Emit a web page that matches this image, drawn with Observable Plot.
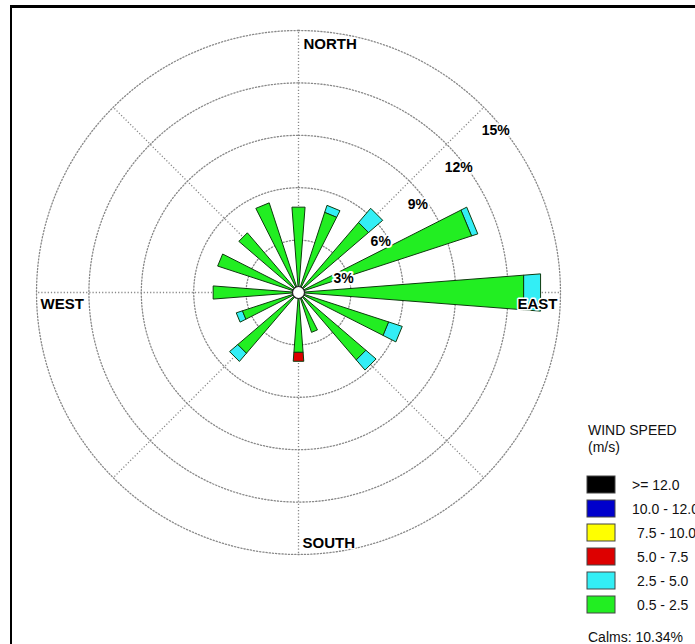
<!DOCTYPE html>
<html><head><meta charset="utf-8">
<script src="https://cdn.jsdelivr.net/npm/d3@7"></script>
<script src="https://cdn.jsdelivr.net/npm/@observablehq/plot@0.6"></script>
<style>
body{margin:0;background:#fff;}
#wrap{position:relative;width:695px;height:644px;overflow:hidden;background:#fff;font-family:"Liberation Sans",Arial,sans-serif;}
#chart{position:absolute;left:0;top:0;}
#legend{position:absolute;left:0;top:0;}
#frame{position:absolute;left:10px;top:5px;width:800px;height:800px;border-left:2px solid #000;border-top:3px solid #000;pointer-events:none;}
</style></head><body>
<div id="wrap"><div id="chart"></div><svg id="legend" width="695" height="644"></svg><div id="frame"></div></div>
<script>
// ---- data (percent frequency by direction and wind-speed class) ----
const directions = ["N","NNE","NE","ENE","E","ESE","SE","SSE","S","SSW","SW","WSW","W","WNW","NW","NNW"];
const bearingDeg = [0,22.5,45,67.5,90,112.5,135,157.5,180,202.5,225,247.5,270,292.5,315,337.5];
const speed_0_5_2_5  = [4.9,4.85,5.3,10.45,12.95,5.45,5.1,2.4,3.45,0,4.6,3.4,4.9,4.87,4.5,5.4];
const speed_2_5_5_0  = [0,0.4,1.05,0.35,0.95,0.8,0.75,0,0,0,0.6,0.35,0,0,0,0];
const speed_5_0_7_5  = [0,0,0,0,0,0,0,0,0.5,0,0,0,0,0,0,0];
const speed_7_5_10_0 = [0,0,0,0,0,0,0,0,0,0,0,0,0,0,0,0];
const speed_10_0_12_0= [0,0,0,0,0,0,0,0,0,0,0,0,0,0,0,0];
const speed_12_0_up  = [0,0,0,0,0,0,0,0,0,0,0,0,0,0,0,0];
const classLabels = ["0.5 - 2.5","2.5 - 5.0","5.0 - 7.5","7.5 - 10.0","10.0 - 12.0",">= 12.0"];
const classColors = ["#22ee22","#33eef5","#dd0000","#ffff00","#0000cc","#000000"];
const ringValues = [3,6,9,12,15];
const ringLabels = ["3%","6%","9%","12%","15%"];
const compassLabels = ["NORTH","EAST","SOUTH","WEST"];
const calmsText = "Calms: 10.34%";
const legendTitle = ["WIND SPEED","(m/s)"];

const classValues = [speed_0_5_2_5,speed_2_5_5_0,speed_5_0_7_5,speed_7_5_10_0,speed_10_0_12_0,speed_12_0_up];

// ---- geometry helpers ----
const rad = d => d*Math.PI/180;
const px = (r,b) => r*Math.sin(rad(b));
const py = (r,b) => r*Math.cos(rad(b));
const halfW = 4.4;

// wedge polygons (stacked)
const wedges = classLabels.map(() => []);
directions.forEach((d,i) => {
  let cum = 0;
  classValues.forEach((vals,c) => {
    const v = vals[i];
    if (v > 0) {
      const r1 = cum, r2 = cum + v, b = bearingDeg[i], id = d + "-" + c;
      [[r1,b-halfW],[r2,b-halfW],[r2,b+halfW],[r1,b+halfW]].forEach(([r,a]) =>
        wedges[c].push({id, x: px(r,a), y: py(r,a)}));
      cum = r2;
    }
  });
});

// rings
const ringPts = [];
ringValues.forEach(r => { for (let a = 0; a <= 360; a += 2) ringPts.push({r, x: px(r,a), y: py(r,a)}); });
const spokes = [0,45,90,135,180,225,270,315].map(b => ({x2: px(15,b), y2: py(15,b)}));

const grid = {stroke:"#888", strokeWidth:1.3, strokeDasharray:"1.2,2"};
const font = "Liberation Sans, Arial, sans-serif";
const lbl = {fill:"#000", stroke:"white", strokeWidth:3, fontWeight:"bold"};

const marks = [
  Plot.line(ringPts, {x:"x", y:"y", z:"r", ...grid}),
  Plot.link(spokes, {x1:0, y1:0, x2:"x2", y2:"y2", ...grid}),
  ...wedges.map((pts,c) => Plot.line(pts, {x:"x", y:"y", z:"id", curve:"linear-closed",
        fill: classColors[c], stroke:"#0d3b0d", strokeWidth:1})),
  Plot.dot([0], {x:0, y:0, r:6, fill:"white", stroke:"#222", strokeWidth:1.2}),
  Plot.text(ringValues, {x: r => r*Math.SQRT1_2, y: r => r*Math.SQRT1_2,
        text: (r,i) => ringLabels[i], textAnchor:"start", dx:-2, dy:23,
        fontSize:14, ...lbl, strokeWidth:4}),
  Plot.text([compassLabels[0]], {x:0, y:15, text:d=>d, textAnchor:"start", dx:5, dy:14, fontSize:15, ...lbl}),
  Plot.text([compassLabels[2]], {x:0, y:-15, text:d=>d, textAnchor:"start", dx:4, dy:-11, fontSize:15, ...lbl}),
  Plot.text([compassLabels[3]], {x:-15, y:0, text:d=>d, textAnchor:"start", dx:4, dy:12, fontSize:15, ...lbl}),
  Plot.text([compassLabels[1]], {x:15, y:0, text:d=>d, textAnchor:"end", dx:-3, dy:12, fontSize:15, ...lbl})
];

const chart = Plot.plot({
  width:695, height:644,
  marginLeft:36, marginRight:135, marginTop:30, marginBottom:90,
  x:{domain:[-15,15], axis:null},
  y:{domain:[-15,15], axis:null},
  style:{fontFamily:font, background:"transparent", overflow:"visible"},
  marks
});
document.getElementById("chart").appendChild(chart);

// ---- legend ----
const lg = d3.select("#legend").style("font-family", font).style("font-size","14px");
lg.append("text").attr("x",588).attr("y",435).attr("fill","#111").text(legendTitle[0]);
lg.append("text").attr("x",588).attr("y",452).attr("fill","#111").text(legendTitle[1]);
const order = [5,4,3,2,1,0];
order.forEach((c,k) => {
  const top = 476 + k*24;
  lg.append("rect").attr("x",587).attr("y",top).attr("width",28).attr("height",17)
    .attr("fill",classColors[c]).attr("stroke","#444").attr("stroke-width",1);
  const lab = classLabels[c];
  const wide = /^(>|\d\d)/.test(lab);
  lg.append("text").attr("x", wide ? 632 : 637).attr("y", top + 14).attr("fill","#111").text(lab);
});
lg.append("text").attr("x",588).attr("y",642).attr("fill","#111").text(calmsText);
</script>
</body></html>
